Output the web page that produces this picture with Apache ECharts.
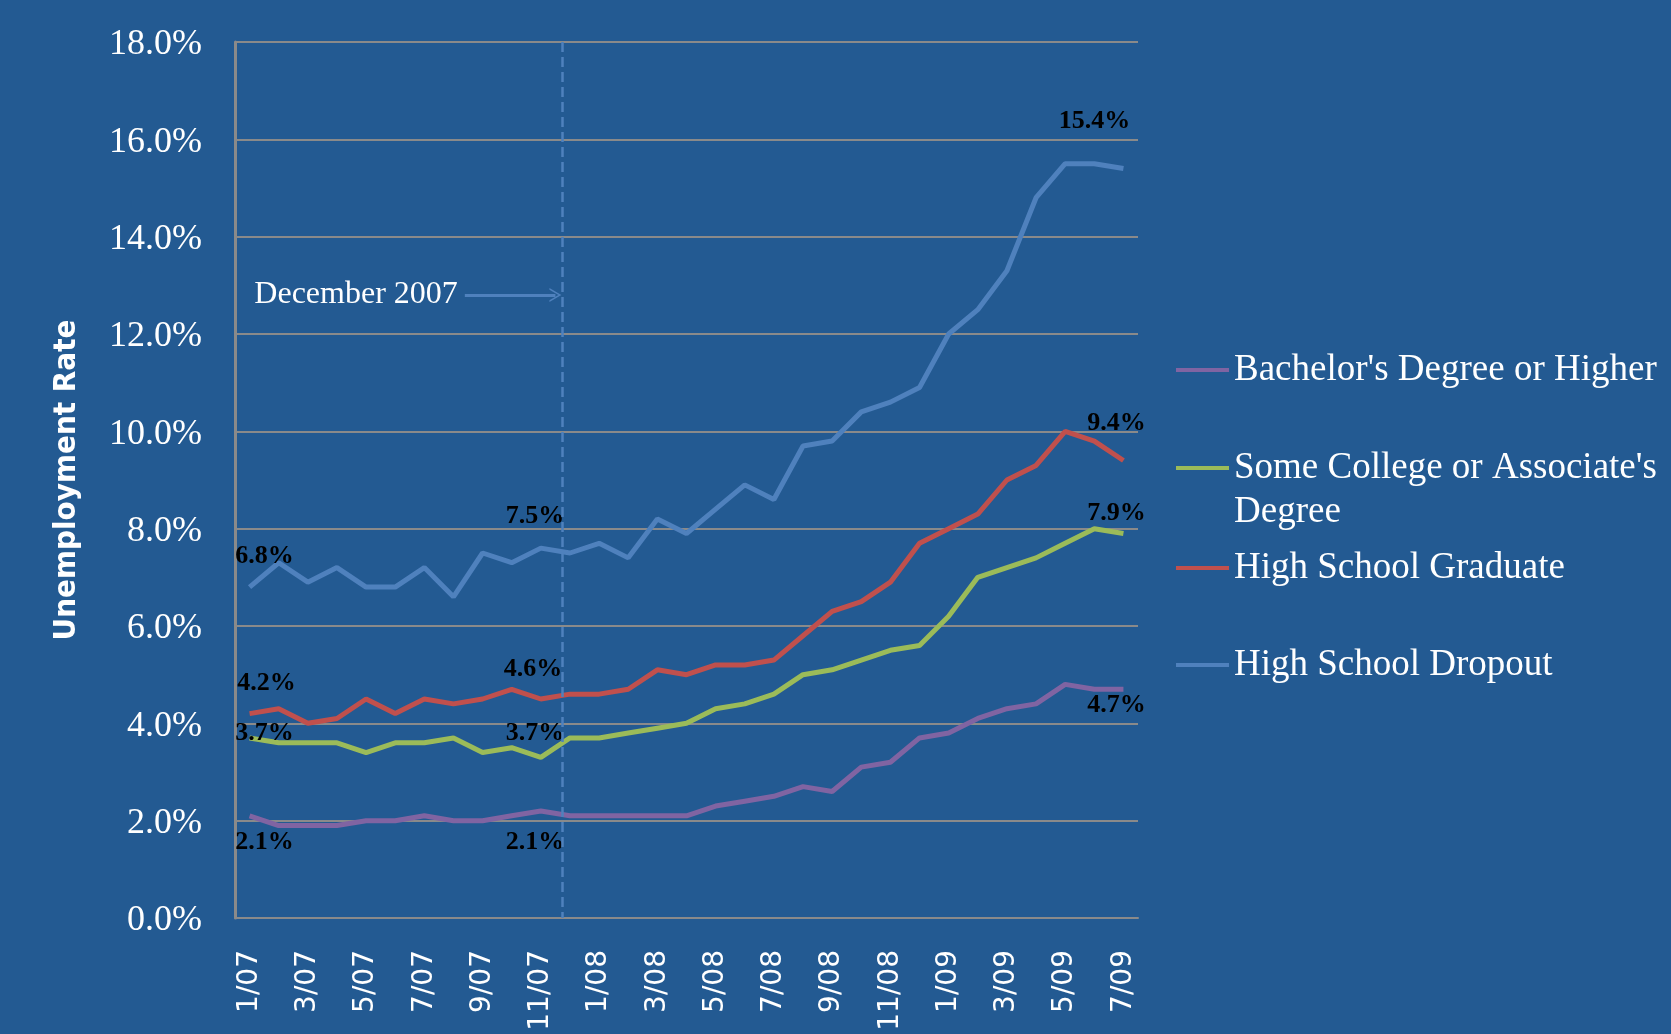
<!DOCTYPE html>
<html>
<head>
<meta charset="utf-8">
<script src="https://cdn.jsdelivr.net/npm/echarts@6/dist/echarts.min.js"></script>
<style>
html,body{margin:0;padding:0;background:#235A92;}
#chart{width:1671px;height:1034px;}
</style>
</head>
<body>
<div id="chart"></div>
<script>
const months = ['1/07','2/07','3/07','4/07','5/07','6/07','7/07','8/07','9/07','10/07','11/07','12/07',
  '1/08','2/08','3/08','4/08','5/08','6/08','7/08','8/08','9/08','10/08','11/08','12/08',
  '1/09','2/09','3/09','4/09','5/09','6/09','7/09'];
const bachelor    = [2.1,1.9,1.9,1.9,2.0,2.0,2.1,2.0,2.0,2.1,2.2,2.1,2.1,2.1,2.1,2.1,2.3,2.4,2.5,2.7,2.6,3.1,3.2,3.7,3.8,4.1,4.3,4.4,4.8,4.7,4.7];
const someCollege = [3.7,3.6,3.6,3.6,3.4,3.6,3.6,3.7,3.4,3.5,3.3,3.7,3.7,3.8,3.9,4.0,4.3,4.4,4.6,5.0,5.1,5.3,5.5,5.6,6.2,7.0,7.2,7.4,7.7,8.0,7.9];
const hsGrad      = [4.2,4.3,4.0,4.1,4.5,4.2,4.5,4.4,4.5,4.7,4.5,4.6,4.6,4.7,5.1,5.0,5.2,5.2,5.3,5.8,6.3,6.5,6.9,7.7,8.0,8.3,9.0,9.3,10.0,9.8,9.4];
const dropout     = [6.8,7.3,6.9,7.2,6.8,6.8,7.2,6.6,7.5,7.3,7.6,7.5,7.7,7.4,8.2,7.9,8.4,8.9,8.6,9.7,9.8,10.4,10.6,10.9,12.0,12.5,13.3,14.8,15.5,15.5,15.4];
const seriesNames = ["Bachelor's Degree or Higher","Some College or Associate's Degree","High School Graduate","High School Dropout"];
const annotationText = 'December 2007';

// label placement (style config, separate from data)
const labelSpots = {
  bachelor:    [[0,[15,26]],[11,[-35,26]],[30,[-7,16]]],
  someCollege: [[0,[15,-5]],[11,[-35,-5]],[30,[-7,-20]]],
  hsGrad:      [[0,[17,-30]],[11,[-37,-25]],[30,[-7,-37]]],
  dropout:     [[0,[15,-31]],[11,[-35,-37]],[30,[-29,-47]]]
};

const labelStyle = {color:'#000', fontFamily:'Liberation Serif', fontWeight:'bold', fontSize:26};

function buildData(values, spots){
  return values.map((v,i)=>{
    const s = spots.find(p=>p[0]===i);
    if(!s) return v;
    return {value:v, label:Object.assign({show:true, position:'inside', offset:s[1],
      formatter:(p)=>Number(p.value).toFixed(1)+'%'}, labelStyle)};
  });
}

const colors = ['#8064A2','#9BBB59','#C0504D','#4F81BD'];

function lineSeries(name, values, spots, color){
  return {
    name, type:'line', data: buildData(values, spots),
    symbol:'circle', symbolSize:0.01, showSymbol:true, showAllSymbol:true,
    lineStyle:{width:5, color}, itemStyle:{color},
    label:Object.assign({show:false}, labelStyle),
    emphasis:{disabled:true}, animation:false
  };
}

const legendTops = [348, 402, 546, 643];
const legends = seriesNames.map((n,i)=>({
  data:[n], orient:'vertical', left:1176, top:legendTops[i], padding:0,
  icon:'rect', itemWidth:53, itemHeight:4, selectedMode:false,
  formatter: (name)=> name === seriesNames[1] ? "\nSome College or Associate's\nDegree" : name,
  textStyle:{color:'#fff', fontFamily:'Liberation Serif', fontSize:37, lineHeight:44}
}));

const chart = echarts.init(document.getElementById('chart'));
chart.setOption({
  backgroundColor:'#235A92',
  animation:false,
  color: colors,
  legend: legends,
  grid:{left:235, right:533, top:42, bottom:116, containLabel:false},
  xAxis:[{
    type:'category', data:months, boundaryGap:true,
    axisLine:{show:true, onZero:false, lineStyle:{color:'#8A8A8A', width:2}},
    axisTick:{show:false},
    axisLabel:{interval:1, rotate:90, margin:32, color:'#fff', fontFamily:'DejaVu Sans', fontSize:28},
    splitLine:{show:false}
  },{
    type:'value', min:-0.5, max:30.5, show:false
  }],
  yAxis:{
    type:'value', min:0, max:18, interval:2,
    name:'Unemployment Rate', nameLocation:'middle', nameRotate:90, nameGap:153,
    nameTextStyle:{color:'#fff', fontFamily:'DejaVu Sans Condensed', fontWeight:'bold', fontSize:31},
    axisLine:{show:true, onZero:false, lineStyle:{color:'#8A8A8A', width:3}},
    axisTick:{show:false},
    axisLabel:{margin:33, color:'#fff', fontFamily:'Liberation Serif', fontSize:36,
      formatter:(v)=>'{v|'+v.toFixed(1)+'%}',
      rich:{v:{padding:[6,0,0,0], color:'#fff', fontFamily:'Liberation Serif', fontSize:36}}},
    splitLine:{show:true, lineStyle:{color:'#8A8A8A', width:2}}
  },
  series:[
    lineSeries(seriesNames[0], bachelor, labelSpots.bachelor, colors[0]),
    lineSeries(seriesNames[1], someCollege, labelSpots.someCollege, colors[1]),
    lineSeries(seriesNames[2], hsGrad, labelSpots.hsGrad, colors[2]),
    lineSeries(seriesNames[3], dropout, labelSpots.dropout, colors[3]),
    {
      type:'line', name:'annotation', xAxisIndex:1, data:[], silent:true,
      markLine:{
        silent:true, animation:false,
        data:[
          [{coord:[10.72, 18], symbol:'none'},{coord:[10.72, 0], symbol:'none'}],
          [{coord:[7.39, 12.8], symbol:'none',
            lineStyle:{type:'solid', width:3},
            label:{show:true, position:'start', formatter:annotationText, distance:7,
              color:'#fff', fontFamily:'Liberation Serif', fontSize:32}},
           {coord:[10.5, 12.8], symbol:'path://M0,12 L6,0 L12,12 L10.5,12 L6,3 L1.5,12 Z', symbolSize:[14,12]}]
        ],
        lineStyle:{color:'#4F81BD', type:[10,5], width:2.5},
        label:{show:false}
      }
    }
  ]
});
</script>
</body>
</html>
